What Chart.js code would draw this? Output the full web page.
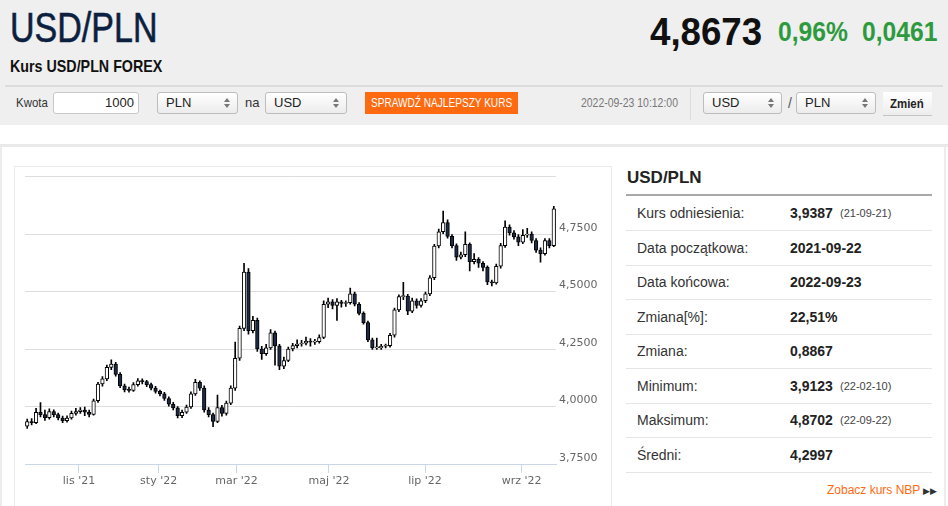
<!DOCTYPE html>
<html lang="pl">
<head>
<meta charset="utf-8">
<title>USD/PLN</title>
<script src="https://cdn.jsdelivr.net/npm/chart.js@4.4.0/dist/chart.umd.min.js"></script>
<style>
  body { margin: 0; width: 948px; height: 506px; overflow: hidden; background: #fff; font-family: "Liberation Sans", Arial, sans-serif; position: relative; }
  .a { position: absolute; white-space: nowrap; }
  .nar { transform-origin: left center; }
  #top { position: absolute; left: 0; top: 0; width: 948px; height: 125px; background: #efefef; }
  .sel { position: absolute; top: 92px; height: 20px; border: 1px solid #bdbdbd; border-radius: 3px; background: linear-gradient(#fff, #ececec); font-size: 13px; line-height: 20px; color: #222; }
  .sel span { position: absolute; left: 8px; }
  .sel i { position: absolute; right: 7px; width: 0; height: 0; border-left: 3px solid transparent; border-right: 3px solid transparent; }
  .sel i.u { top: 5px; border-bottom: 4px solid #777; }
  .sel i.d { top: 11px; border-top: 4px solid #777; }
  .row { position: absolute; left: 626px; width: 306px; height: 34px; line-height: 34px; border-bottom: 1px solid #e6e6e6; font-size: 14px; color: #333; }
  .row .l { position: absolute; left: 11px; }
  .row .v { position: absolute; left: 164px; font-weight: bold; color: #222; }
  .row .d { position: absolute; left: 214px; font-size: 11px; color: #444; }
</style>
</head>
<body>
<div id="top"></div>
<div class="a nar" style="left:10px;top:7px;font-size:42px;line-height:42px;color:#0c1f40;transform:scaleX(.81);-webkit-text-stroke:0.6px #0c1f40">USD/PLN</div>
<div class="a nar" style="left:650px;top:12px;font-size:39px;line-height:39px;font-weight:bold;color:#111;transform:scaleX(.94)">4,8673</div>
<div class="a nar" style="left:778px;top:18px;font-size:28px;line-height:28px;font-weight:bold;color:#2d9a3e;transform:scaleX(.88)">0,96%</div>
<div class="a nar" style="left:862px;top:18px;font-size:28px;line-height:28px;font-weight:bold;color:#2d9a3e;transform:scaleX(.88)">0,0461</div>
<div class="a nar" style="left:10px;top:58px;font-size:17px;line-height:17px;font-weight:bold;color:#111;transform:scaleX(.84)">Kurs USD/PLN FOREX</div>
<div class="a" style="left:5px;top:85px;width:938px;height:2px;background:#dcdcdc"></div>

<div class="a nar" style="left:16px;top:92px;font-size:13px;line-height:22px;color:#333;transform:scaleX(.88)">Kwota</div>
<div class="a" style="left:53px;top:92px;width:84px;height:20px;border:1px solid #c8c8c8;border-radius:3px;background:#fff;font-size:13px;line-height:20px;text-align:right;color:#222"><span style="padding-right:4px">1000</span></div>
<div class="sel" style="left:157px;width:79px"><span>PLN</span><i class="u"></i><i class="d"></i></div>
<div class="a" style="left:245px;top:92px;font-size:13px;line-height:22px;color:#333">na</div>
<div class="sel" style="left:265px;width:80px"><span>USD</span><i class="u"></i><i class="d"></i></div>
<div class="a" style="left:365px;top:92px;width:153px;height:22px;background:#ff6a10"></div>
<div class="a nar" style="left:371px;top:92px;font-size:12px;line-height:22px;color:#fff;transform:scaleX(.84)">SPRAWDŹ NAJLEPSZY KURS</div>
<div class="a nar" style="left:581px;top:92px;font-size:12px;line-height:22px;color:#777;transform:scaleX(.87)">2022-09-23 10:12:00</div>
<div class="a" style="left:690px;top:88px;width:1px;height:32px;background:#dcdcdc"></div>
<div class="sel" style="left:703px;width:77px"><span>USD</span><i class="u"></i><i class="d"></i></div>
<div class="a" style="left:788px;top:92px;font-size:14px;line-height:22px;color:#555">/</div>
<div class="sel" style="left:796px;width:78px"><span>PLN</span><i class="u"></i><i class="d"></i></div>
<div class="a" style="left:883px;top:92px;width:49px;height:23px;background:linear-gradient(#fff,#ededed);border-bottom:1px solid #c4c4c4"></div>
<div class="a nar" style="left:890px;top:92px;font-size:13px;line-height:23px;font-weight:bold;color:#222;transform:scaleX(.88)">Zmień</div>

<div class="a" style="left:0;top:144px;width:948px;height:3px;background:#e9e9e9"></div>
<div class="a" style="left:0;top:147px;width:2px;height:359px;background:#ececec"></div>
<div class="a" style="left:944px;top:147px;width:2px;height:359px;background:#ececec"></div>
<div class="a" style="left:14px;top:166px;width:596px;height:345px;border:1px solid #ebebeb"></div>
<canvas id="chart" class="a" style="left:15px;top:167px" width="595" height="339"></canvas>

<div class="a" style="left:627px;top:168px;font-size:17px;line-height:20px;font-weight:bold;color:#222">USD/PLN</div>
<div class="a" style="left:626px;top:194px;width:306px;height:2px;background:#a8a8a8"></div>
<div id="table"></div>
<div class="a" style="left:827px;top:482px;font-size:12px;line-height:16px;color:#ff6a10">Zobacz kurs NBP <span style="color:#333;font-size:9px">▶▶</span></div>

<script>
// candles: one per ~2 trading days, 2021-09-22 .. 2022-09-23
const opens = [
  3.915, 3.935, 3.930, 3.975, 3.965, 3.952, 3.978, 3.965, 3.950, 3.938,
  3.950, 3.970, 3.978, 3.985, 3.975, 3.966, 4.025, 4.098, 4.120, 4.170,
  4.185, 4.140, 4.090, 4.072, 4.070, 4.095, 4.112, 4.108, 4.095, 4.080,
  4.066, 4.055, 4.035, 4.010, 3.994, 3.960, 3.975, 3.998, 4.055, 4.105,
  4.080, 3.985, 3.965, 3.935, 3.995, 3.970, 4.015, 4.080, 4.210, 4.340,
  4.585, 4.330, 4.375, 4.250, 4.230, 4.255, 4.320, 4.264, 4.175, 4.200,
  4.250, 4.265, 4.272, 4.275, 4.285, 4.280, 4.282, 4.300, 4.445, 4.455,
  4.440, 4.455, 4.448, 4.452, 4.490, 4.445, 4.405, 4.365, 4.290, 4.255,
  4.255, 4.262, 4.265, 4.310, 4.420, 4.478, 4.480, 4.415, 4.460, 4.440,
  4.460, 4.490, 4.560, 4.698, 4.760, 4.800, 4.740, 4.700, 4.650, 4.660,
  4.705, 4.630, 4.640, 4.623, 4.605, 4.542, 4.538, 4.610, 4.700, 4.780,
  4.755, 4.738, 4.715, 4.745, 4.750, 4.722, 4.680, 4.665, 4.722, 4.700
];
const highs = [
  3.945, 3.948, 3.992, 4.017, 3.985, 3.990, 3.986, 3.972, 3.958, 3.960,
  3.980, 3.992, 3.995, 3.998, 3.985, 4.032, 4.105, 4.130, 4.180, 4.203,
  4.192, 4.148, 4.098, 4.085, 4.104, 4.122, 4.120, 4.114, 4.102, 4.088,
  4.072, 4.062, 4.042, 4.018, 4.000, 3.985, 4.006, 4.064, 4.118, 4.112,
  4.090, 3.995, 3.972, 4.050, 4.005, 4.024, 4.090, 4.280, 4.350, 4.623,
  4.600, 4.392, 4.385, 4.262, 4.270, 4.335, 4.328, 4.270, 4.215, 4.258,
  4.275, 4.290, 4.288, 4.302, 4.295, 4.292, 4.312, 4.460, 4.472, 4.465,
  4.470, 4.462, 4.460, 4.515, 4.498, 4.452, 4.412, 4.372, 4.298, 4.298,
  4.270, 4.272, 4.318, 4.428, 4.486, 4.540, 4.488, 4.472, 4.468, 4.470,
  4.498, 4.570, 4.705, 4.772, 4.850, 4.812, 4.748, 4.708, 4.672, 4.760,
  4.712, 4.665, 4.648, 4.630, 4.612, 4.550, 4.620, 4.710, 4.808, 4.790,
  4.765, 4.748, 4.770, 4.775, 4.760, 4.730, 4.690, 4.730, 4.730, 4.871
];
const lows = [
  3.905, 3.920, 3.925, 3.955, 3.940, 3.945, 3.955, 3.942, 3.930, 3.932,
  3.945, 3.962, 3.970, 3.960, 3.955, 3.962, 4.018, 4.088, 4.112, 4.160,
  4.132, 4.082, 4.064, 4.062, 4.066, 4.088, 4.098, 4.086, 4.072, 4.058,
  4.046, 4.026, 4.002, 3.985, 3.950, 3.952, 3.970, 3.992, 4.048, 4.070,
  3.975, 3.955, 3.912, 3.930, 3.958, 3.962, 4.008, 4.070, 4.200, 4.330,
  4.315, 4.320, 4.240, 4.205, 4.222, 4.248, 4.180, 4.160, 4.165, 4.195,
  4.242, 4.255, 4.262, 4.268, 4.262, 4.270, 4.276, 4.295, 4.430, 4.425,
  4.375, 4.432, 4.435, 4.445, 4.438, 4.398, 4.358, 4.282, 4.248, 4.248,
  4.248, 4.255, 4.258, 4.302, 4.412, 4.465, 4.400, 4.408, 4.428, 4.432,
  4.452, 4.482, 4.552, 4.690, 4.752, 4.732, 4.690, 4.635, 4.642, 4.652,
  4.590, 4.620, 4.605, 4.590, 4.530, 4.525, 4.532, 4.602, 4.692, 4.745,
  4.728, 4.700, 4.708, 4.735, 4.712, 4.670, 4.628, 4.658, 4.690, 4.695
];
const closes = [
  3.935, 3.930, 3.975, 3.965, 3.952, 3.978, 3.965, 3.950, 3.938, 3.950,
  3.970, 3.978, 3.985, 3.975, 3.966, 4.025, 4.098, 4.120, 4.170, 4.185,
  4.140, 4.090, 4.072, 4.070, 4.095, 4.112, 4.108, 4.095, 4.080, 4.066,
  4.055, 4.035, 4.010, 3.994, 3.960, 3.975, 3.998, 4.055, 4.105, 4.080,
  3.985, 3.965, 3.935, 3.995, 3.970, 4.015, 4.080, 4.210, 4.340, 4.585,
  4.330, 4.375, 4.250, 4.230, 4.255, 4.320, 4.264, 4.175, 4.200, 4.250,
  4.265, 4.272, 4.275, 4.285, 4.280, 4.282, 4.300, 4.445, 4.455, 4.440,
  4.455, 4.448, 4.452, 4.490, 4.445, 4.405, 4.365, 4.290, 4.255, 4.255,
  4.262, 4.265, 4.310, 4.420, 4.478, 4.480, 4.415, 4.460, 4.440, 4.460,
  4.490, 4.560, 4.698, 4.760, 4.800, 4.740, 4.700, 4.650, 4.660, 4.705,
  4.630, 4.640, 4.623, 4.605, 4.542, 4.538, 4.610, 4.700, 4.780, 4.755,
  4.738, 4.715, 4.745, 4.750, 4.722, 4.680, 4.665, 4.722, 4.700, 4.860
];

// x axis month labels, placed at candle positions
const tickPos = [11.7, 29.7, 47.3, 68.2, 89.9, 111.75];
const tickLabels = ["lis '21", "sty '22", "mar '22", "maj '22", "lip '22", "wrz '22"];

// side table
const statLabels = ["Kurs odniesienia:", "Data początkowa:", "Data końcowa:", "Zmiana[%]:", "Zmiana:", "Minimum:", "Maksimum:", "Średni:"];
const statValues = ["3,9387", "2021-09-22", "2022-09-23", "22,51%", "0,8867", "3,9123", "4,8702", "4,2997"];
const statDates = ["(21-09-21)", "", "", "", "", "(22-02-10)", "(22-09-22)", ""];

const table = document.getElementById("table");
statLabels.forEach((label, i) => {
  const row = document.createElement("div");
  row.className = "row";
  row.style.top = (196 + i * 34.5) + "px";
  row.innerHTML = `<span class="l">${label}</span><span class="v">${statValues[i]}</span>` +
    (statDates[i] ? `<span class="d">${statDates[i]}</span>` : "");
  table.appendChild(row);
});

const n = closes.length;
const bodies = closes.map((c, i) => ({ x: i, y: [Math.min(opens[i], c), Math.max(opens[i], c)] }));
const wicks = closes.map((c, i) => ({ x: i, y: [lows[i], highs[i]] }));
const bodyColors = closes.map((c, i) => (c >= opens[i] ? "#ffffff" : "#1c2a44"));

const fmt = v => v.toFixed(4).replace(".", ",");

new Chart(document.getElementById("chart").getContext("2d"), {
  type: "bar",
  data: {
    datasets: [
      {
        data: bodies,
        grouped: false,
        barThickness: 3.6,
        minBarLength: 1,
        backgroundColor: bodyColors,
        borderColor: "#000",
        borderWidth: 1,
        borderSkipped: false,
        order: 0
      },
      {
        data: wicks,
        grouped: false,
        barThickness: 1,
        backgroundColor: "#000",
        borderWidth: 0,
        order: 1
      }
    ]
  },
  options: {
    responsive: false,
    animation: false,
    layout: { padding: { left: 10, top: 9, right: 0, bottom: 0 } },
    plugins: { legend: { display: false }, tooltip: { enabled: false } },
    scales: {
      x: {
        type: "linear",
        min: -0.5,
        max: n - 0.5,
        offset: false,
        afterBuildTicks: s => { s.ticks = tickPos.map(v => ({ value: v })); },
        afterFit: s => { s.height = 42; },
        ticks: {
          autoSkip: false,
          maxRotation: 0,
          padding: 2,
          color: "#666",
          font: { family: "DejaVu Sans", size: 11 },
          callback: (v, i) => tickLabels[i]
        },
        grid: { offset: false, drawOnChartArea: false, drawTicks: true, tickLength: 9, color: "#ccd6eb" },
        border: { color: "#ccd6eb" }
      },
      y: {
        position: "right",
        min: 3.75,
        max: 5,
        afterFit: s => { s.width = 54; },
        ticks: {
          stepSize: 0.25,
          padding: 3,
          labelOffset: -6,
          color: "#666",
          font: { family: "DejaVu Sans", size: 11 },
          callback: v => (v >= 5 ? "" : fmt(v))
        },
        grid: {
          drawTicks: false,
          color: ctx => (ctx.tick && ctx.tick.value === 3.75 ? "rgba(0,0,0,0)" : "#dddddd")
        },
        border: { display: false }
      }
    }
  }
});
</script>
</body>
</html>
